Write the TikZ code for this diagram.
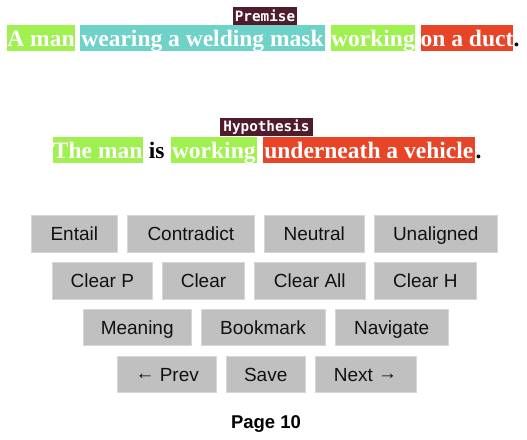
\documentclass[tikz,border=0pt]{standalone}
\usepackage{fontspec}
\setmainfont{Liberation Serif}
\newfontfamily\btnfont{Liberation Sans}
\newfontfamily\lblfont{DejaVu Sans Mono}
\definecolor{lime}{HTML}{A0F050}
\definecolor{teal}{HTML}{6ED2C8}
\definecolor{redseg}{HTML}{E84428}
\definecolor{maroon}{HTML}{501C2D}
\definecolor{btngray}{HTML}{C0C0C0}
\definecolor{btnedge}{HTML}{D6D6D6}
\definecolor{btntext}{HTML}{111111}
\tikzset{
  seg/.style={fill=#1, text=white, inner sep=0pt, anchor=base,
    font=\bfseries\fontsize{23.5}{28}\selectfont, text height=21pt, text depth=5pt},
  plain/.style={text=black, inner sep=0pt,
    font=\bfseries\fontsize{23.5}{28}\selectfont},
  lbl/.style={fill=maroon, text=white, inner sep=0pt, minimum height=18pt,
    font=\lblfont\bfseries\fontsize{14.3}{16}\selectfont},
  btn/.style={fill=btngray, draw=btnedge, line width=0.8pt, text=btntext, inner sep=0pt,
    text height=13.6pt, text depth=0pt,
    font=\btnfont\fontsize{19}{22}\selectfont}
}
\newcommand{\uparr}[1]{\raisebox{1.5pt}{#1}}
\begin{document}
\begin{tikzpicture}[x=1pt,y=-1pt]
\useasboundingbox[fill=white] (0,0) rectangle (527,439);
% Premise
\node[lbl, minimum width=64pt] (plbl) at (265,16) {Premise};
\node[seg=lime, minimum width=66pt] (p1) at (41,46) {A man};
\node[seg=teal, minimum width=245pt] (p2) at (202.5,46) {wearing a welding mask};
\node[seg=lime, minimum width=84pt] (p3) at (373,46) {working};
\node[seg=redseg, minimum width=92pt] (p4) at (467,46) {on a duct};
\node[plain, anchor=base west] (pdot) at (513.5,46) {.};
% Hypothesis
\node[lbl, minimum width=93pt] (hlbl) at (266.5,127) {Hypothesis};
\node[seg=lime, minimum width=90pt] (h1) at (97.7,158) {The man};
\node[plain, anchor=base] (h2) at (156.8,158) {is};
\node[seg=lime, minimum width=85.7pt] (h3) at (213.8,158) {working};
\node[seg=redseg, minimum width=212.3pt] (h4) at (368.8,158) {underneath a vehicle};
\node[plain, anchor=base west] (hdot) at (475.5,158) {.};
% Buttons row 1
\node[btn, minimum width=86.7pt, minimum height=37pt] (bentail) at (74.3,233.5) {Entail};
\node[btn, minimum width=127pt, minimum height=37pt] (bcontra) at (190.8,233.5) {Contradict};
\node[btn, minimum width=99.7pt, minimum height=37pt] (bneutral) at (314.2,233.5) {Neutral};
\node[btn, minimum width=123.7pt, minimum height=37pt] (bunal) at (435.8,233.5) {Unaligned};
% row 2
\node[btn, minimum width=100pt, minimum height=36.7pt] (bclp) at (102.3,280.7) {Clear P};
\node[btn, minimum width=81.6pt, minimum height=36.7pt] (bcl) at (203.5,280.7) {Clear};
\node[btn, minimum width=110.3pt, minimum height=36.7pt] (bcla) at (309.8,280.7) {Clear All};
\node[btn, minimum width=101.3pt, minimum height=36.7pt] (bclh) at (425.3,280.7) {Clear H};
% row 3
\node[btn, minimum width=107.7pt, minimum height=36.7pt] (bmean) at (137.2,327.3) {Meaning};
\node[btn, minimum width=124pt, minimum height=36.7pt] (bbook) at (263,327.3) {Bookmark};
\node[btn, minimum width=113.3pt, minimum height=36.7pt] (bnav) at (391.7,327.3) {Navigate};
% row 4
\node[btn, minimum width=99pt, minimum height=36.3pt] (bprev) at (167.2,374.2) {\uparr{←} Prev};
\node[btn, minimum width=78.7pt, minimum height=36.3pt] (bsave) at (265.7,374.2) {Save};
\node[btn, minimum width=101pt, minimum height=36.3pt] (bnext) at (365.5,374.2) {Next \uparr{→}};
% page
\node[anchor=base, inner sep=0pt, text=black, font=\btnfont\bfseries\fontsize{18.5}{22}\selectfont] (page) at (266,428) {Page 10};
\end{tikzpicture}
\end{document}
